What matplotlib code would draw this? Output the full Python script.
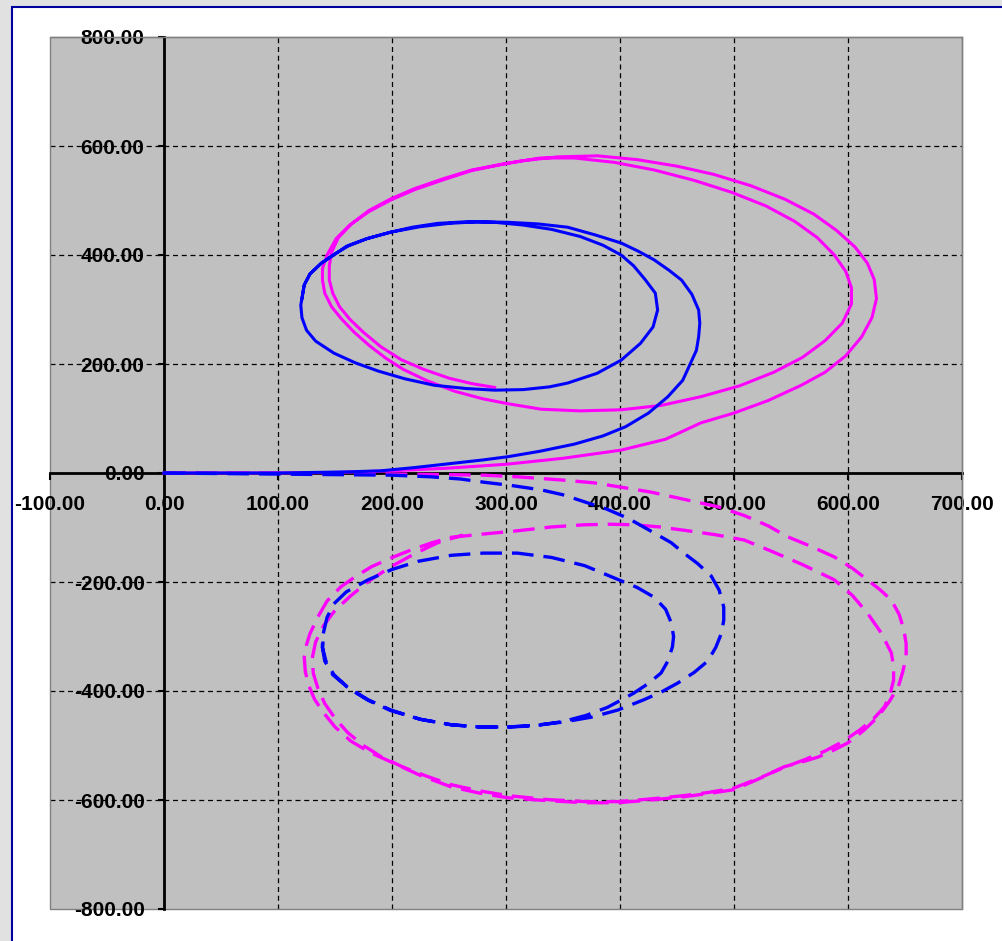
import matplotlib
matplotlib.use('Agg')
import matplotlib.pyplot as plt
from matplotlib.patches import Rectangle
from matplotlib.ticker import FormatStrFormatter

plt.rcParams['font.family'] = ['Liberation Sans', 'DejaVu Sans']

# axis ticks
x_ticks = [-100, 0, 100, 200, 300, 400, 500, 600, 700]
y_ticks = [-800, -600, -400, -200, 0, 200, 400, 600, 800]

# upper trajectory, blue
blue_x = [0, 50, 100, 130, 160, 190, 220, 250, 280, 302, 330, 360, 385, 405, 425,
          442, 455, 462, 467, 469, 470, 469, 463, 454, 443, 430, 416, 401, 378, 354,
          328, 302, 275, 250, 225, 199, 178, 160, 149, 138, 128, 123, 120, 121, 125,
          133, 149, 168, 188, 211, 237, 265, 290, 315, 338, 354, 380, 401, 418, 429,
          433, 431, 422, 412, 401, 385, 365, 340, 315, 290, 265, 240, 218, 199, 178,
          162, 149, 138, 128, 123, 121]
blue_y = [0, 0, 0, 1, 2, 4, 10, 17, 24, 30, 40, 53, 68, 85, 110,
          140, 170, 202, 225, 250, 275, 299, 328, 354, 372, 391, 407, 422, 437, 451,
          457, 460, 461, 458, 452, 442, 430, 416, 400, 385, 365, 345, 308, 285, 262,
          242, 220, 202, 187, 173, 161, 155, 152, 153, 158, 165, 183, 207, 238, 268,
          299, 330, 355, 380, 400, 418, 434, 447, 455, 460, 461, 458, 451, 442, 430,
          417, 401, 385, 365, 345, 320]

# upper trajectory, magenta
pink_x = [0, 100, 150, 200, 250, 300, 350, 401, 440, 471, 500, 530, 559, 580, 598,
          612, 621, 625, 623, 617, 606, 590, 570, 545, 515, 482, 450, 415, 380, 345,
          315, 296, 270, 245, 220, 199, 180, 163, 151, 143, 139, 139, 141, 147, 156,
          167, 180, 195, 210, 230, 255, 280, 302, 331, 365, 401, 436, 471, 505, 535,
          560, 580, 595, 603, 603, 598, 588, 573, 553, 528, 498, 465, 430, 395, 360,
          330, 300, 270, 245, 220, 199, 180, 165, 153, 147, 145, 145, 148, 154, 163,
          175, 190, 208, 228, 250, 270, 290]
pink_y = [0, 0, 1, 4, 9, 16, 27, 42, 62, 92, 110, 133, 161, 185, 215,
          250, 285, 320, 355, 385, 415, 445, 475, 502, 527, 548, 563, 575, 582, 580,
          573, 566, 555, 538, 520, 501, 480, 455, 430, 400, 375, 354, 330, 305, 282,
          258, 234, 210, 190, 170, 150, 136, 127, 117, 114, 116, 124, 140, 160, 185,
          212, 243, 275, 310, 340, 370, 400, 432, 462, 490, 515, 537, 556, 570, 578,
          578, 568, 556, 540, 522, 503, 482, 458, 432, 405, 380, 354, 330, 305, 282,
          258, 232, 208, 190, 174, 164, 157]

# lower trajectory, blue (dashed)
blue_dx = [0, 50, 100, 150, 200, 234, 260, 281, 305, 331, 350, 369, 388, 407, 430,
           445, 456, 468, 480, 487, 491, 491, 489, 484, 477, 465, 451, 437, 421, 398,
           375, 350, 325, 302, 277, 252, 225, 199, 179, 161, 148, 141, 139, 139, 143,
           149, 160, 179, 200, 223, 252, 280, 310, 340, 369, 392, 415, 430, 440, 445,
           447, 446, 442, 436, 425, 412, 398, 389, 370, 350, 325, 302, 277, 252, 225,
           199, 179, 162, 149, 142, 139, 140]
blue_dy = [0, -1, -2, -3, -4, -7, -11, -17, -23, -31, -40, -53, -66, -83, -110,
           -128, -147, -166, -189, -215, -246, -270, -294, -320, -345, -366, -385, -401, -416, -435,
           -448, -457, -463, -466, -466, -462, -452, -435, -416, -393, -370, -345, -320, -301, -265,
           -240, -218, -196, -177, -162, -151, -147, -147, -155, -170, -190, -210, -228, -250, -275,
           -300, -319, -345, -367, -386, -404, -420, -430, -445, -456, -464, -466, -466, -462, -452,
           -436, -417, -395, -370, -345, -320, -300]

# lower trajectory, magenta (dashed)
pink_dx = [0, 100, 150, 200, 250, 281, 310, 350, 377, 398, 427, 460, 486, 509, 530,
           547, 568, 588, 604, 617, 628, 638, 645, 649, 651, 651, 648, 644, 636, 626,
           614, 600, 588, 574, 560, 544, 522, 500, 478, 456, 427, 398, 369, 335, 302,
           276, 252, 225, 199, 180, 164, 150, 140, 132, 127, 124, 123, 125, 128, 135,
           143, 155, 168, 182, 199, 217, 235, 252, 280, 310, 340, 369, 390, 412, 435,
           456, 483, 509, 530, 560, 588, 604, 617, 629, 638, 640, 640, 637, 632, 622,
           610, 596, 580, 562, 544, 522, 500, 478, 456, 427, 398, 369, 335, 302, 276,
           252, 230, 210, 190, 175, 161, 150, 141, 135, 131, 130, 133, 140, 150, 164,
           180, 199, 220, 240, 262]
pink_dy = [0, 0, -1, -2, -3, -4, -7, -13, -18, -25, -35, -50, -62, -78, -97,
           -117, -135, -154, -175, -196, -214, -233, -260, -288, -313, -338, -365, -393, -420, -448,
           -472, -495, -508, -521, -530, -539, -561, -581, -588, -594, -600, -605, -605, -601, -596,
           -587, -576, -555, -530, -512, -492, -466, -440, -415, -390, -365, -338, -315, -295, -264,
           -235, -209, -190, -172, -156, -141, -128, -118, -112, -106, -99, -95, -94, -95, -99,
           -105, -113, -123, -141, -168, -196, -225, -257, -293, -330, -355, -380, -405, -429, -452,
           -472, -492, -510, -526, -540, -560, -578, -586, -592, -598, -603, -603, -599, -592, -583,
           -572, -556, -540, -520, -500, -476, -450, -423, -395, -368, -340, -310, -280, -252, -225,
           -198, -172, -148, -128, -114]

fig = plt.figure(figsize=(10.03, 9.41), dpi=100)
fig.patch.set_facecolor('#e1e1e1')
# white chart area with a navy frame, cut off at right and bottom
fig.add_artist(Rectangle((12 / 1003, -0.1), 1.2, 1.1 - 7 / 941,
                         transform=fig.transFigure, facecolor='white',
                         edgecolor='#0000a0', linewidth=1.5, zorder=0))

ax = fig.add_axes([50 / 1003, 32 / 941, 912 / 1003, 872 / 941])
ax.set_facecolor('#c0c0c0')
ax.set_xlim(-100, 700)
ax.set_ylim(-800, 800)

# dashed grid on interior ticks only
for x in x_ticks[1:-1]:
    ax.axvline(x, color='black', linewidth=0.9, linestyle=(0, (4, 3)), zorder=1)
for y in y_ticks[1:-1]:
    ax.axhline(y, color='black', linewidth=0.9, linestyle=(0, (4, 3)), zorder=1)

ax.plot(pink_dx, pink_dy, color='#ff00ff', linewidth=2.4, linestyle=(0, (6.5, 3)), zorder=2)
ax.plot(pink_x, pink_y, color='#ff00ff', linewidth=2.2, zorder=2)
ax.plot(blue_dx, blue_dy, color='#0000ff', linewidth=2.4, linestyle=(0, (6.5, 3)), zorder=2)
ax.plot(blue_x, blue_y, color='#0000ff', linewidth=2.2, zorder=2)

# axes cross at the origin
for side in ['top', 'right']:
    ax.spines[side].set_color('#808080')
    ax.spines[side].set_linewidth(1)
for side in ['left', 'bottom']:
    ax.spines[side].set_position(('data', 0))
    ax.spines[side].set_color('black')
    ax.spines[side].set_linewidth(2)
    ax.spines[side].set_zorder(1.5)
ax.add_patch(Rectangle((0, 0), 1, 1, transform=ax.transAxes, fill=False,
                       edgecolor='#808080', linewidth=1, zorder=1, clip_on=False))

ax.set_xticks(x_ticks)
ax.set_yticks(y_ticks)
ax.xaxis.set_major_formatter(FormatStrFormatter('%.2f'))
ax.yaxis.set_major_formatter(FormatStrFormatter('%.2f'))
ax.tick_params(axis='x', direction='out', length=5, width=1.5, pad=11, labelsize=15)
ax.tick_params(axis='y', direction='out', length=4, width=1.5, pad=10, labelsize=15)
for lab in ax.get_xticklabels() + ax.get_yticklabels():
    lab.set_fontweight('bold')

fig.savefig('out.png', dpi=100, facecolor=fig.get_facecolor())
